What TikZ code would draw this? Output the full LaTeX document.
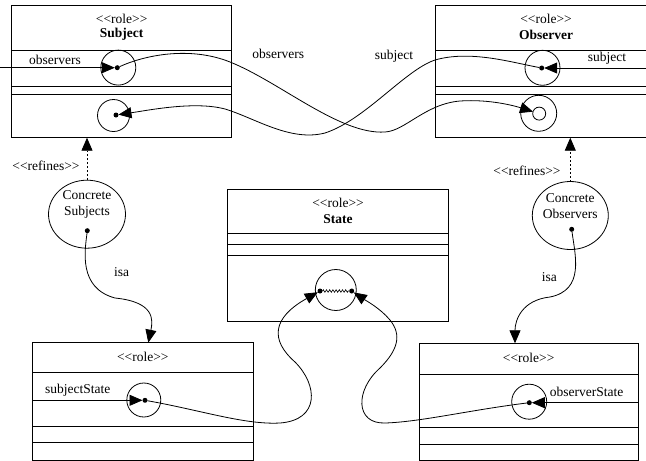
\documentclass[tikz,border=0pt]{standalone}
\usepackage{fontspec}
\setmainfont{Liberation Serif}
\usetikzlibrary{arrows.meta,shapes.geometric,decorations.pathmorphing}

% stereotype brackets written as separate angle characters
\newcommand{\stereo}[1]{<{}<#1>{}>}

\begin{document}
\begin{tikzpicture}[x=1pt,y=-1pt,
  every node/.style={font=\fontsize{13.5}{15}\selectfont, inner sep=0pt, outer sep=0pt},
  rolebox/.style={draw, line width=0.8pt, rectangle},
  sepline/.style={line width=0.8pt},
  port/.style={circle, draw, line width=0.8pt},
  pin/.style={circle, fill, minimum size=5pt},
  blob/.style={ellipse, draw, line width=0.8pt, minimum width=77pt, minimum height=68pt},
  link/.style={line width=0.8pt, -{Triangle[length=13pt,width=11pt]}},
  refine/.style={link, dash pattern=on 2pt off 2pt},
  wavy/.style={line width=0.6pt, decorate, decoration={zigzag, amplitude=1.3pt, segment length=3.2pt}}]

\clip (0,0) rectangle (646,461);

% ---------- Subject role ----------
\node[rolebox, minimum width=220pt, minimum height=132.7pt] (subj) at (121.7,71.35) {};
\draw[sepline] ([yshift=-45pt]subj.north west) -- ([yshift=-45pt]subj.north east);
\draw[sepline] ([yshift=-81.7pt]subj.north west) -- ([yshift=-81.7pt]subj.north east);
\draw[sepline] ([yshift=-89.3pt]subj.north west) -- ([yshift=-89.3pt]subj.north east);
\node (subjst) at (121.7,18.5) {\stereo{role}};
\node (subjnm) at (121.7,34.5) {\textbf{Subject}};
\node (subjobs) at (55,59.5) {observers};
\node[port, minimum size=35pt] (s1) at (118.3,67.6) {};
\node[pin] (s1dot) at (117.3,67.7) {};
\node[port, minimum size=32pt] (s2) at (113.5,115.5) {};
\node[pin] (s2dot) at (116,115) {};
\coordinate (sobsin) at (0,67.7);
\draw[link] (sobsin) -- (s1dot);

% ---------- Observer role ----------
\node[rolebox, minimum width=220.3pt, minimum height=132.7pt] (obs) at (545.85,71.35) {};
\draw[sepline] ([yshift=-45pt]obs.north west) -- ([yshift=-45pt]obs.north east);
\draw[sepline] ([yshift=-81.7pt]obs.north west) -- ([yshift=-81.7pt]obs.north east);
\draw[sepline] ([yshift=-89.3pt]obs.north west) -- ([yshift=-89.3pt]obs.north east);
\node (obsst) at (546,18.5) {\stereo{role}};
\node (obsnm) at (546,34.5) {\textbf{Observer}};
\node (obssub) at (607,58.3) {subject};
\node[port, minimum size=35pt] (o1) at (542.5,67.8) {};
\node[pin] (o1dot) at (541.7,68) {};
\node[port, minimum size=36pt] (o2) at (538.7,113.3) {};
\node[port, minimum size=13pt] (o2in) at (539.2,113.6) {};
\coordinate (osubin) at (646,68);
\draw[link] (osubin) -- (o1dot);

% ---------- crossing associations ----------
\node (lblobs) at (278.3,54) {observers};
\node (lblsub) at (394,56.7) {subject};
\draw[link] (s1dot) .. controls (145,55) and (190,46) .. (230,62)
  .. controls (280,82) and (340,135) .. (385,132)
  .. controls (405,131) and (425,104) .. (460,101)
  .. controls (490,99) and (515,106) .. (o2in);
\draw[link] (o1dot) .. controls (510,62) and (470,50) .. (435,60)
  .. controls (405,70) and (365,120) .. (325,133)
  .. controls (290,142) and (255,118) .. (225,109)
  .. controls (195,101) and (150,110) .. (s2dot);

% ---------- concrete subjects ----------
\node[blob] (cs) at (87,214.2) {};
\node[align=center, font=\fontsize{13.5}{16}\selectfont] (cstext) at (87,204.2) {Concrete\\Subjects};
\node[pin] (csdot) at (87.3,230.7) {};
\node (csref) at (46,166) {\stereo{refines}};
\draw[refine] (cs.north) -- (cs.north |- subj.south);
\node (csisa) at (121.7,272.3) {isa};

% ---------- concrete observers ----------
\node[blob, minimum width=76pt] (co) at (570.3,215.5) {};
\node[align=center, font=\fontsize{13.5}{16}\selectfont] (cotext) at (570.3,206.2) {Concrete\\Observers};
\node[pin] (codot) at (571.7,229.3) {};
\node (coref) at (527,170.5) {\stereo{refines}};
\draw[refine] (co.north) -- (co.north |- obs.south);
\node (coisa) at (549.3,276.7) {isa};

% ---------- State role ----------
\node[rolebox, minimum width=220.6pt, minimum height=132.7pt] (state) at (338,255.35) {};
\draw[sepline] ([yshift=-44.3pt]state.north west) -- ([yshift=-44.3pt]state.north east);
\draw[sepline] ([yshift=-55.3pt]state.north west) -- ([yshift=-55.3pt]state.north east);
\draw[sepline] ([yshift=-66pt]state.north west) -- ([yshift=-66pt]state.north east);
\node (statest) at (338,202.7) {\stereo{role}};
\node (statenm) at (338,219) {\textbf{State}};
\node[port, minimum size=41pt] (stc) at (335.8,290) {};
\node[pin] (sld) at (320,291) {};
\node[pin] (srd) at (351.7,291) {};
\draw[wavy] (sld) -- (srd);

% ---------- subject-side role ----------
\node[rolebox, minimum width=221pt, minimum height=117.8pt] (sl) at (142.8,401.6) {};
\draw[sepline] ([yshift=-29.3pt]sl.north west) -- ([yshift=-29.3pt]sl.north east);
\draw[sepline] ([yshift=-83.8pt]sl.north west) -- ([yshift=-83.8pt]sl.north east);
\draw[sepline] ([yshift=-99.3pt]sl.north west) -- ([yshift=-99.3pt]sl.north east);
\node (slst) at (142.8,356.5) {\stereo{role}};
\node (slattr) at (77.8,390) {subjectState};
\node[port, minimum size=34pt] (ss) at (143.8,400) {};
\node[pin] (ssdot) at (145,400.3) {};
\draw[link] (sl.west |- ssdot) -- (ssdot);

% ---------- observer-side role ----------
\node[rolebox, minimum width=219.3pt, minimum height=117.2pt] (sr) at (528.65,401.9) {};
\draw[sepline] ([yshift=-30.7pt]sr.north west) -- ([yshift=-30.7pt]sr.north east);
\draw[sepline] ([yshift=-84.4pt]sr.north west) -- ([yshift=-84.4pt]sr.north east);
\draw[sepline] ([yshift=-101pt]sr.north west) -- ([yshift=-101pt]sr.north east);
\node (srst) at (528.7,358.3) {\stereo{role}};
\node (srattr) at (586.7,391.7) {observerState};
\node[port, minimum size=35pt] (os) at (529.2,401.7) {};
\node[pin] (osdot) at (529.3,402.7) {};
\draw[link] (sr.east |- osdot) -- (osdot);

% ---------- isa links ----------
\draw[link] (csdot) .. controls (85,250) and (78,288) .. (115,298)
  .. controls (155,302) and (153,320) .. ([xshift=5.5pt]sl.north);
\draw[link] (codot) .. controls (575,255) and (585,290) .. (550,297)
  .. controls (522,300) and (515,320) .. ([xshift=-13.65pt]sr.north);

% ---------- links into the State port ----------
\draw[link] (ssdot) .. controls (200,410) and (245,425) .. (280,423)
  .. controls (320,420) and (318,385) .. (295,362)
  .. controls (270,340) and (272,318) .. (sld);
\draw[link] (osdot) .. controls (470,410) and (420,422) .. (385,423)
  .. controls (355,424) and (355,390) .. (380,368)
  .. controls (398,350) and (402,335) .. (390,320)
  .. controls (380,308) and (365,300) .. (srd);

\end{tikzpicture}
\end{document}
